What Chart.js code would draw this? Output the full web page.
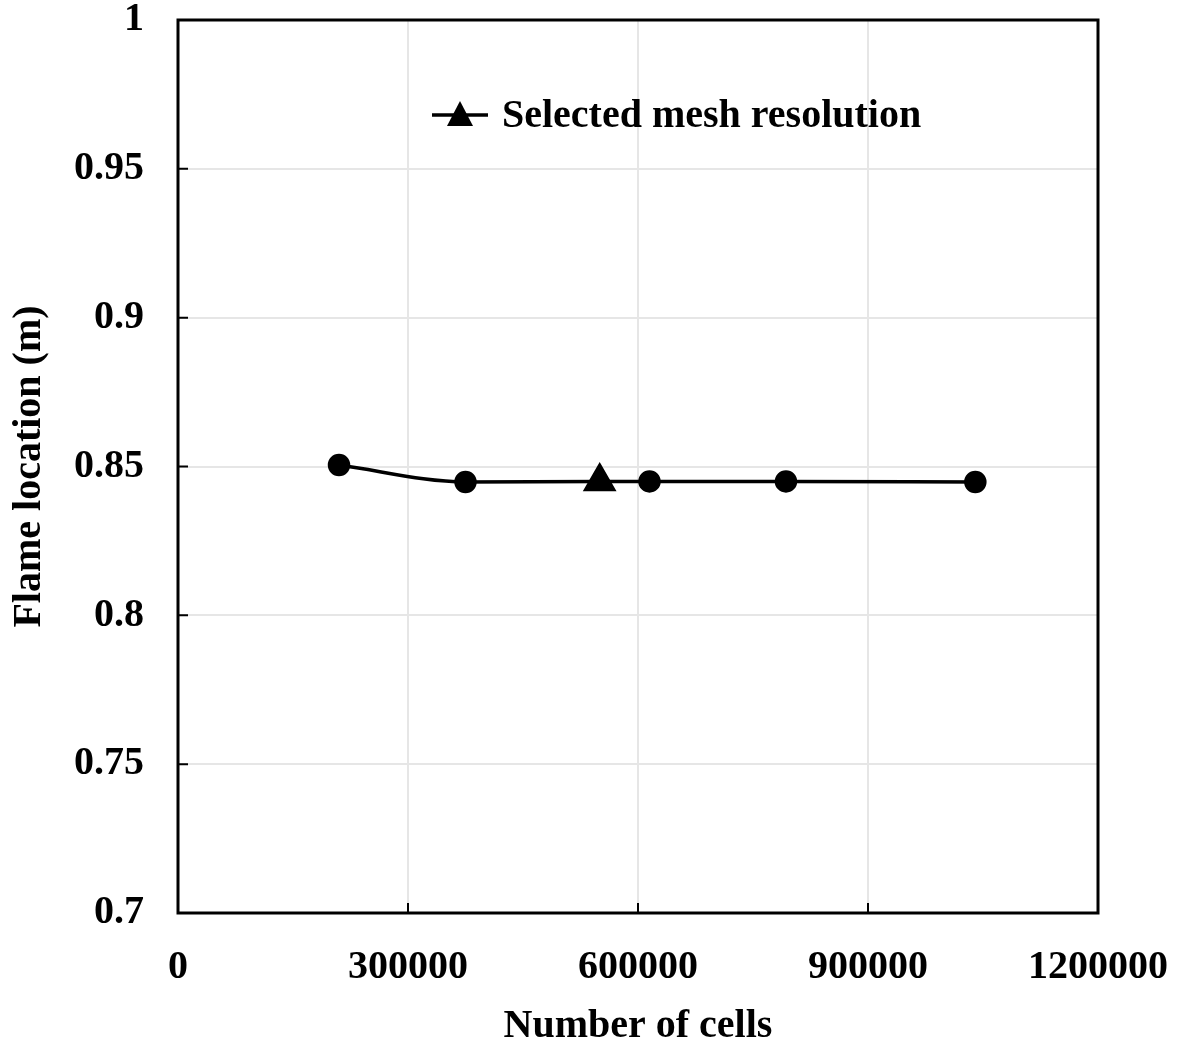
<!DOCTYPE html>
<html>
<head>
<meta charset="utf-8">
<script src="https://cdn.jsdelivr.net/npm/chart.js@4"></script>
<style>
  html, body { margin: 0; padding: 0; background: #fff; }
  #wrap { width: 1177px; height: 1051px; }
</style>
</head>
<body>
<div id="wrap"><canvas id="meshChart"></canvas></div>
<script>
// Data
var cells = [210000, 375000, 550000, 615000, 793000, 1040000];
var flameLocation = [0.8505, 0.8448, 0.845, 0.845, 0.845, 0.8448];
var markers = ['circle', 'circle', 'triangle', 'circle', 'circle', 'circle'];
var xTicks = [0, 300000, 600000, 900000, 1200000];
var yTicks = [0.7, 0.75, 0.8, 0.85, 0.9, 0.95, 1];
var legendLabel = 'Selected mesh resolution';

var serif = '"Liberation Serif", "Times New Roman", serif';
var fontSize = 40;

// frame, inward tick marks and the legend
var framePlugin = {
    id: 'frame',
    afterDraw: function (chart) {
        var c = chart.ctx, a = chart.chartArea;
        var xs = chart.scales.x, ys = chart.scales.y;
        c.save();
        c.strokeStyle = '#000';
        c.lineWidth = 3;
        c.strokeRect(a.left, a.top, a.right - a.left, a.bottom - a.top);
        c.lineWidth = 2;
        c.beginPath();
        xTicks.forEach(function (v) {
            var px = xs.getPixelForValue(v);
            c.moveTo(px, a.bottom); c.lineTo(px, a.bottom - 10);
        });
        yTicks.forEach(function (v) {
            var py = ys.getPixelForValue(v);
            c.moveTo(a.left, py); c.lineTo(a.left + 10, py);
        });
        c.stroke();

        // legend
        var ly = 115;
        c.lineWidth = 3.5;
        c.beginPath();
        c.moveTo(432, ly); c.lineTo(488, ly);
        c.stroke();
        c.fillStyle = '#000';
        c.beginPath();
        c.moveTo(460, ly - 14); c.lineTo(473, ly + 11); c.lineTo(447, ly + 11);
        c.closePath();
        c.fill();
        c.font = 'bold ' + fontSize + 'px ' + serif;
        c.textBaseline = 'middle';
        c.fillText(legendLabel, 502, ly + 2);
        c.restore();
    }
};

var ctx = document.getElementById('meshChart').getContext('2d');

var meshChart = new Chart(ctx, {
    type: 'line',
    data: {
        datasets: [{
            label: legendLabel,
            data: cells.map(function (x, i) { return { x: x, y: flameLocation[i] }; }),
            borderColor: '#000',
            backgroundColor: '#000',
            borderWidth: 3.5,
            cubicInterpolationMode: 'monotone',
            pointStyle: markers,
            pointRadius: [9.5, 9.5, 16, 9.5, 9.5, 9.5],
            pointHoverRadius: [9.5, 9.5, 16, 9.5, 9.5, 9.5],
            fill: false
        }]
    },
    options: {
        responsive: true,
        maintainAspectRatio: false,
        animation: false,
        layout: { padding: { top: 20, right: 79, left: 0, bottom: 0 } },
        plugins: {
            legend: { display: false },
            tooltip: { enabled: false }
        },
        scales: {
            x: {
                type: 'linear',
                min: 0,
                max: 1200000,
                afterBuildTicks: function (s) { s.ticks = xTicks.map(function (v) { return { value: v }; }); },
                afterFit: function (s) {
                    s.height = 138;
                    s.paddingLeft = 0; s.paddingRight = 0;
                },
                grid: { color: '#e6e6e6', lineWidth: 2, drawTicks: false },
                border: { display: false },
                ticks: {
                    padding: 31,
                    color: '#000',
                    maxRotation: 0,
                    font: { family: serif, size: fontSize, weight: 'bold' },
                    callback: function (v) { return String(v); }
                },
                title: {
                    display: true,
                    text: 'Number of cells',
                    color: '#000',
                    padding: { top: 6, bottom: 0 },
                    font: { family: serif, size: fontSize, weight: 'bold' }
                }
            },
            y: {
                min: 0.7,
                max: 1,
                afterBuildTicks: function (s) { s.ticks = yTicks.map(function (v) { return { value: v }; }); },
                afterFit: function (s) {
                    s.width = 178;
                    s.paddingTop = 0; s.paddingBottom = 0;
                },
                grid: { color: '#e6e6e6', lineWidth: 2, drawTicks: false },
                border: { display: false },
                ticks: {
                    padding: 34,
                    color: '#000',
                    font: { family: serif, size: fontSize, weight: 'bold' },
                    callback: function (v) { return String(v); }
                },
                title: {
                    display: true,
                    text: 'Flame location (m)',
                    color: '#000',
                    padding: { top: 6, bottom: 0 },
                    font: { family: serif, size: fontSize, weight: 'bold' }
                }
            }
        }
    },
    plugins: [framePlugin]
});
</script>
</body>
</html>
